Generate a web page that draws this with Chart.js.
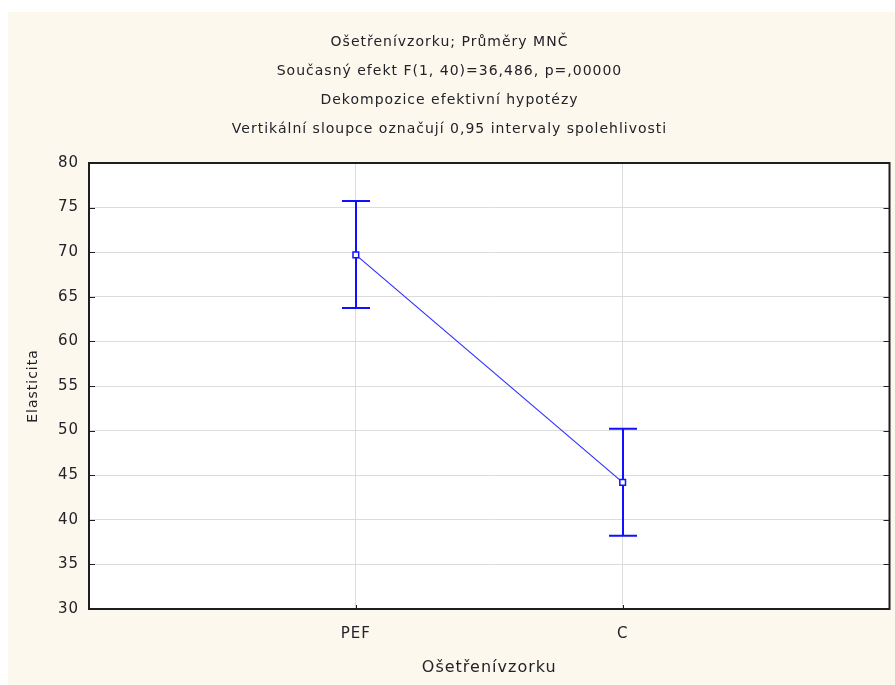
<!DOCTYPE html>
<html>
<head>
<meta charset="utf-8">
<script src="https://cdn.jsdelivr.net/npm/chart.js@4/dist/chart.umd.min.js"></script>
<style>
  html, body { margin: 0; padding: 0; background: #ffffff; }
  #wrap { width: 895px; height: 685px; }
</style>
</head>
<body>
<div id="wrap"><canvas id="c" width="895" height="685"></canvas></div>
<script>
// Treatment groups and their least-squares means with 0.95 confidence limits
const categories = ['PEF', 'C'];
const means = [69.7, 44.2];
const lowerCI = [63.75, 38.2];
const upperCI = [75.75, 50.2];

const titleLines = [
  'Ošetřenívzorku; Průměry MNČ',
  'Současný efekt F(1, 40)=36,486, p=,00000',
  'Dekompozice efektivní hypotézy',
  'Vertikální sloupce označují 0,95 intervaly spolehlivosti'
];
const xTitle = 'Ošetřenívzorku';
const yTitle = 'Elasticita';

const FONT = "'DejaVu Sans', sans-serif";
const TEXT = '#222229';
const BLUE = '#1010ff';

// Cream page background plus white plotting area; slightly wide text spacing
const backgroundPlugin = {
  id: 'panelBackground',
  beforeDraw(chart) {
    const { ctx, chartArea: a } = chart;
    ctx.letterSpacing = '1px';
    ctx.save();
    ctx.fillStyle = '#fdf8ee';
    ctx.fillRect(8, 12, chart.width - 8, chart.height - 12);
    ctx.fillStyle = '#ffffff';
    ctx.fillRect(a.left, a.top, a.right - a.left, a.bottom - a.top);
    ctx.restore();
  }
};

// Frame around the plotting area with inward tick marks
const framePlugin = {
  id: 'frame',
  afterDatasetsDraw(chart) {
    const { ctx, chartArea: a, scales } = chart;
    ctx.save();
    ctx.strokeStyle = '#1e1e1e';
    ctx.lineWidth = 1;
    ctx.beginPath();
    scales.y.ticks.forEach(t => {
      const py = Math.round(scales.y.getPixelForValue(t.value)) + 0.5;
      ctx.moveTo(a.left, py); ctx.lineTo(a.left + 6, py);
      ctx.moveTo(a.right, py); ctx.lineTo(a.right - 6, py);
    });
    scales.x.ticks.forEach(t => {
      const px = Math.round(scales.x.getPixelForValue(t.value)) + 0.5;
      ctx.moveTo(px, a.bottom); ctx.lineTo(px, a.bottom - 4);
    });
    ctx.stroke();
    ctx.lineWidth = 2;
    ctx.strokeRect(a.left, a.top, a.right - a.left, a.bottom - a.top);
    ctx.restore();
  }
};

// Vertical confidence-interval bars with caps
const errorBarPlugin = {
  id: 'errorBars',
  beforeDatasetsDraw(chart) {
    const { ctx, scales } = chart;
    ctx.save();
    ctx.strokeStyle = BLUE;
    ctx.lineWidth = 2;
    ctx.beginPath();
    categories.forEach((c, i) => {
      const px = Math.round(scales.x.getPixelForValue(i + 1));
      const yLo = scales.y.getPixelForValue(lowerCI[i]);
      const yHi = scales.y.getPixelForValue(upperCI[i]);
      ctx.moveTo(px, yLo); ctx.lineTo(px, yHi);
      ctx.moveTo(px - 14, yLo); ctx.lineTo(px + 14, yLo);
      ctx.moveTo(px - 14, yHi); ctx.lineTo(px + 14, yHi);
    });
    ctx.stroke();
    ctx.restore();
  }
};

new Chart(document.getElementById('c'), {
  type: 'line',
  data: {
    datasets: [{
      data: means.map((m, i) => ({ x: i + 1, y: m })),
      borderColor: '#3030ff',
      borderWidth: 1.2,
      pointStyle: 'rect',
      pointRadius: 4,
      pointBorderWidth: 1.5,
      pointBorderColor: BLUE,
      pointBackgroundColor: '#ffffff',
      fill: false,
      tension: 0
    }]
  },
  plugins: [backgroundPlugin, errorBarPlugin, framePlugin],
  options: {
    responsive: false,
    animation: false,
    layout: { padding: { top: 12, left: 8, right: 4, bottom: 0 } },
    plugins: {
      legend: { display: false },
      tooltip: { enabled: false },
      title: {
        display: true,
        text: titleLines,
        color: TEXT,
        font: { family: FONT, size: 14, weight: 'normal', lineHeight: '29px' },
        padding: { top: 16, bottom: 19 }
      }
    },
    scales: {
      x: {
        type: 'linear',
        min: 0,
        max: 3,
        afterBuildTicks: s => { s.ticks = categories.map((c, i) => ({ value: i + 1 })); },
        afterFit: s => { s.height = 76; },
        ticks: {
          callback: v => categories[v - 1] ?? '',
          color: TEXT,
          font: { family: FONT, size: 15 },
          padding: 16,
          maxRotation: 0
        },
        grid: { color: '#dcdcdc', drawTicks: false },
        border: { display: false },
        title: {
          display: true,
          text: xTitle,
          color: TEXT,
          font: { family: FONT, size: 16 },
          padding: { top: 0, bottom: 8 }
        }
      },
      y: {
        min: 30,
        max: 80,
        afterFit: s => { s.width = 81; },
        ticks: {
          stepSize: 5,
          color: TEXT,
          font: { family: FONT, size: 15 },
          padding: 10
        },
        grid: { color: '#dcdcdc', drawTicks: false },
        border: { display: false },
        title: {
          display: true,
          text: yTitle,
          color: TEXT,
          font: { family: FONT, size: 14 },
          padding: { top: 16.5, bottom: 0 }
        }
      }
    }
  }
});
</script>
</body>
</html>
